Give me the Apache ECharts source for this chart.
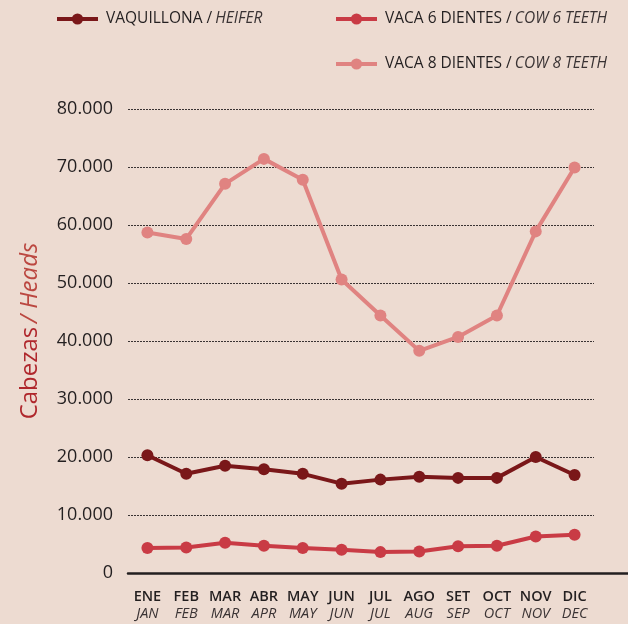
<!DOCTYPE html>
<html>
<head>
<meta charset="utf-8">
<script src="https://cdn.jsdelivr.net/npm/echarts@6/dist/echarts.min.js"></script>
<style>
  html, body { margin: 0; padding: 0; background: #eddbd1; }
  #chart { width: 628px; height: 624px; }
</style>
</head>
<body>
<div id="chart"></div>
<script>
const mesesEs = ['ENE', 'FEB', 'MAR', 'ABR', 'MAY', 'JUN', 'JUL', 'AGO', 'SET', 'OCT', 'NOV', 'DIC']
const mesesEn = ['JAN', 'FEB', 'MAR', 'APR', 'MAY', 'JUN', 'JUL', 'AUG', 'SEP', 'OCT', 'NOV', 'DEC']

const vaquillona = [20300, 17100, 18500, 17900, 17100, 15400, 16100, 16600, 16400, 16400, 20000, 16900]
const vaca6 = [4300, 4400, 5200, 4700, 4300, 4000, 3600, 3700, 4600, 4700, 6300, 6600]
const vaca8 = [58700, 57600, 67100, 71400, 67800, 50600, 44400, 38300, 40700, 44400, 58900, 69900]

const yTicks = [0, 10000, 20000, 30000, 40000, 50000, 60000, 70000, 80000]

const textColor = '#231f20'
const font = '"Open Sans", "Noto Sans", sans-serif'

// legend label: spanish part upright, english part italic
const legendNames = {
  'VAQUILLONA': 'HEIFER',
  'VACA 6 DIENTES': 'COW 6 TEETH',
  'VACA 8 DIENTES': 'COW 8 TEETH'
}

const fmtMiles = (v) => String(v).replace(/\B(?=(\d{3})+(?!\d))/g, '.')

const legendBase = {
  itemWidth: 41,
  itemHeight: 14,
  itemGap: 10,
  lineStyle: { width: 4 },
  formatter: (name) => '{n|' + name + ' /} {i|' + legendNames[name] + '}',
  textStyle: {
    color: textColor,
    fontFamily: font,
    rich: {
      n: { fontSize: 15.5, fontFamily: font, fontWeight: 500, color: textColor, padding: [0, 0, 0, 3] },
      i: { fontSize: 15.5, fontFamily: font, fontStyle: 'italic', color: '#3a3334' }
    }
  }
}

const serie = (name, data, color) => ({
  name: name,
  type: 'line',
  data: data,
  symbol: 'circle',
  symbolSize: 12,
  showSymbol: true,
  lineStyle: { width: 4, color: color },
  itemStyle: { color: color },
  xAxisIndex: 0,
  yAxisIndex: 0,
  animation: false
})

const chart = echarts.init(document.getElementById('chart'))
chart.setOption({
  backgroundColor: '#eddbd1',
  legend: [
    Object.assign({}, legendBase, { data: ['VAQUILLONA'], left: 50, top: 6 }),
    Object.assign({}, legendBase, { data: ['VACA 6 DIENTES'], left: 329, top: 6 }),
    Object.assign({}, legendBase, { data: ['VACA 8 DIENTES'], left: 329, top: 51 })
  ],
  grid: [
    { left: 128, right: 34, top: 109, bottom: 51 },
    { left: 128, right: 0, top: 109, bottom: 51 }
  ],
  xAxis: [
    {
      type: 'category',
      gridIndex: 0,
      data: mesesEs,
      boundaryGap: true,
      axisLine: { show: false },
      axisTick: { show: false },
      axisLabel: {
        margin: 15,
        interval: 0,
        formatter: (v, i) => '{a|' + v + '}\n{b|' + mesesEn[i] + '}',
        rich: {
          a: { fontSize: 14.5, fontFamily: font, fontWeight: 600, color: textColor, lineHeight: 17 },
          b: { fontSize: 14.5, fontFamily: font, fontStyle: 'italic', color: '#3a3334', lineHeight: 17 }
        }
      }
    },
    {
      type: 'value',
      gridIndex: 1,
      axisLine: { show: true, onZero: false, lineStyle: { color: textColor, width: 2.5 } },
      axisTick: { show: false },
      axisLabel: { show: false },
      splitLine: { show: false }
    }
  ],
  yAxis: [
    {
      type: 'value',
      gridIndex: 0,
      min: yTicks[0],
      max: yTicks[yTicks.length - 1],
      interval: yTicks[1] - yTicks[0],
      axisLine: { show: false },
      axisTick: { show: false },
      axisLabel: {
        margin: 15,
        fontSize: 18,
        fontFamily: font,
        color: textColor,
        formatter: fmtMiles
      },
      splitLine: { lineStyle: { color: '#3a3333', type: [2, 1], width: 1 } },
      name: '{c|Cabezas} {h|/ Heads}',
      nameLocation: 'middle',
      nameRotate: 90,
      nameGap: 86,
      nameTextStyle: {
        padding: [0, 0, 0, 20],
        rich: {
          c: { fontSize: 24, fontFamily: font, color: '#af272c' },
          h: { fontSize: 24, fontFamily: font, fontStyle: 'italic', color: '#bb4740' }
        }
      }
    },
    {
      type: 'value',
      gridIndex: 1,
      show: false
    }
  ],
  series: [
    serie('VAQUILLONA', vaquillona, '#7a1719'),
    serie('VACA 6 DIENTES', vaca6, '#c93b45'),
    serie('VACA 8 DIENTES', vaca8, '#e08381')
  ]
})
</script>
</body>
</html>
